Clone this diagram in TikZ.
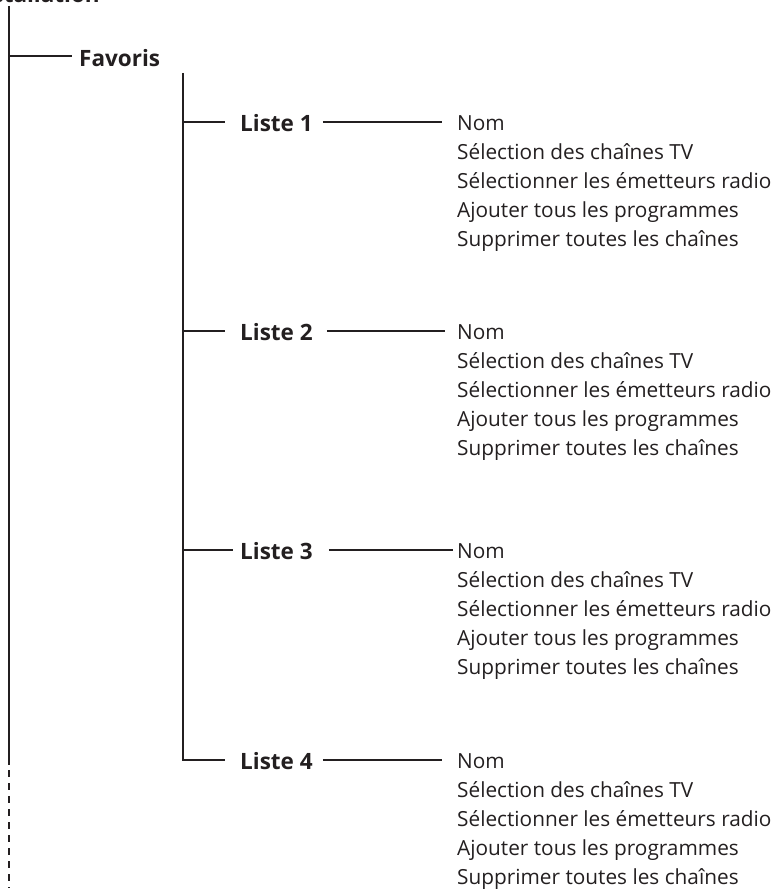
\documentclass[tikz,border=0pt]{standalone}
\usepackage{fontspec}
\setmainfont{Open Sans}
\usepackage{tikz}
\usetikzlibrary{positioning,calc}
\definecolor{mnink}{HTML}{231F20}

\begin{document}
\begin{tikzpicture}[x=1pt,y=-1pt,
  head/.style={mnink,inner sep=0pt,font=\fontsize{22.5}{27}\selectfont\bfseries},
  item/.style={mnink,inner sep=0pt,font=\fontsize{20.8}{25}\selectfont},
  trunk/.style={mnink,line width=2pt},
  branch/.style={mnink,line width=1.5pt}]
\useasboundingbox (0,0) rectangle (779,890);
\clip (0,0) rectangle (779,890);

% main trunk
\node[head,anchor=base east] (install) at (100,3) {Installation};
\coordinate (maintop) at (9,6);
\coordinate (mainend) at (9,765);
\coordinate (mainlow) at (9,888);
\draw[trunk] (maintop) -- (mainend);
\draw[trunk,dash pattern=on 7pt off 6pt] ([yshift=-5pt]mainend) -- (mainlow);

% Favoris
\coordinate (favjoin) at (9,56);
\node[head,anchor=base west] (favoris) at (79,67) {Favoris};
\draw[branch] (favjoin) -- ([xshift=-7pt]favjoin -| favoris.west);

% lists
\coordinate (favtop) at (183,73);
\coordinate (fork1) at (183,122);
\coordinate (fork2) at (183,331);
\coordinate (fork3) at (183,550);
\coordinate (fork4) at (183,760);
\foreach \n in {1,...,4}
  \node[head,anchor=base west] (liste\n) at ($(fork\n)+(57,9.5)$) {Liste \n};

\foreach \n in {1,...,4} {
  \node[item,anchor=base west] (nom\n) at ($(fork\n)+(274,8.5)$) {Nom};
  \node[item,anchor=base west] (sel\n) at ($(nom\n.base west)+(0,29)$) {Sélection des chaînes TV};
  \node[item,anchor=base west] (radio\n) at ($(sel\n.base west)+(0,29)$) {Sélectionner les émetteurs radio};
  \node[item,anchor=base west] (ajout\n) at ($(radio\n.base west)+(0,29)$) {Ajouter tous les programmes};
  \node[item,anchor=base west] (suppr\n) at ($(ajout\n.base west)+(0,29)$) {Supprimer toutes les chaînes};
}

\draw[branch] (favtop) |- ([xshift=-15pt]fork4 -| liste4.west);
\draw[branch] (fork1) -- ([xshift=-15pt]fork1 -| liste1.west);
\draw[branch] (fork2) -- ([xshift=-15pt]fork2 -| liste2.west);
\draw[branch] (fork3) -- ([xshift=-7pt]fork3 -| liste3.west);

\draw[branch] ([xshift=10pt]fork1 -| liste1.east) -- ([xshift=-15pt]fork1 -| nom1.west);
\draw[branch] ([xshift=14pt]fork2 -| liste2.east) -- ([xshift=-12pt]fork2 -| nom2.west);
\draw[branch] ([xshift=16pt]fork3 -| liste3.east) -- ([xshift=-4pt]fork3 -| nom3.west);
\draw[branch] ([xshift=10pt]fork4 -| liste4.east) -- ([xshift=-15pt]fork4 -| nom4.west);
\end{tikzpicture}
\end{document}
